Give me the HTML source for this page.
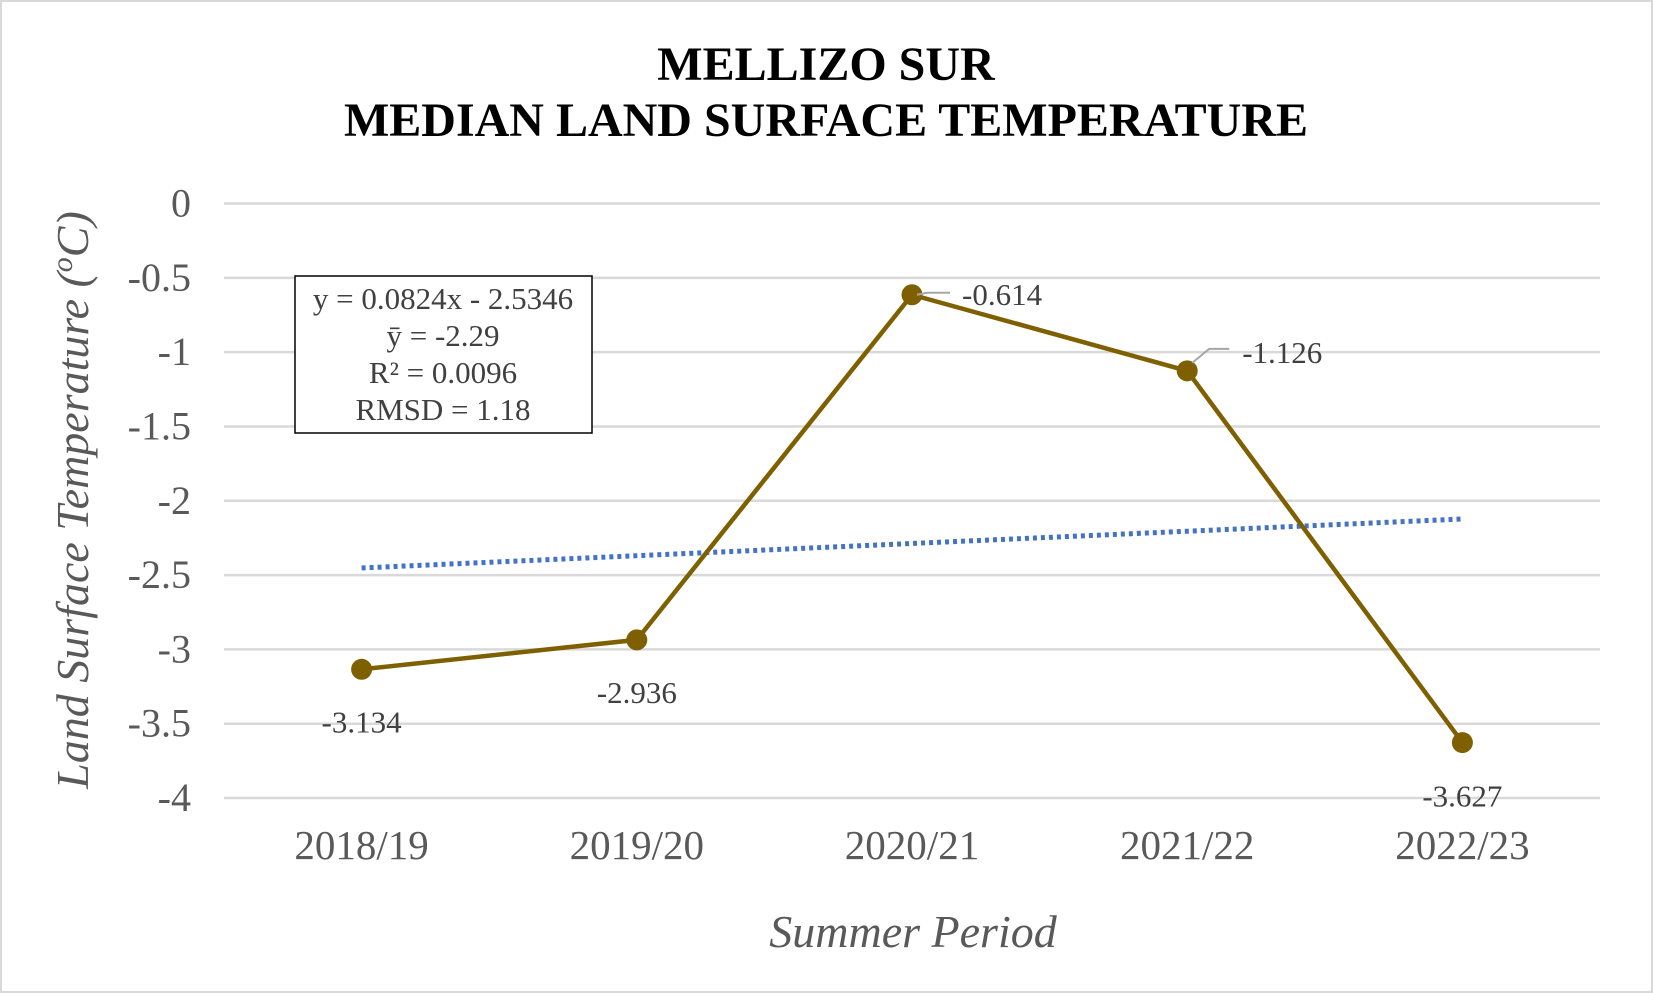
<!DOCTYPE html>
<html><head><meta charset="utf-8"><style>
body{margin:0;background:#fff}
svg{display:block;font-family:"Liberation Serif",serif}
</style></head><body>
<svg width="1653" height="993">
<rect x="1" y="1" width="1651" height="991" fill="#fff" stroke="#d9d9d9" stroke-width="2"/>
<text x="826" y="80" text-anchor="middle" font-size="48" font-weight="bold">MELLIZO SUR</text>
<text x="826" y="136" text-anchor="middle" font-size="48" font-weight="bold">MEDIAN LAND SURFACE TEMPERATURE</text>
<g id="grid"></g>
<g id="trend"></g>
<g id="series"></g>
<g id="labels"></g>
<text transform="translate(88,500) rotate(-90)" text-anchor="middle" font-size="46" font-style="italic" fill="#595959">Land Surface Temperature (<tspan baseline-shift="super" font-size="30">o</tspan>C)</text>
<text x="913" y="947" text-anchor="middle" font-size="46" font-style="italic" fill="#595959">Summer Period</text>
<g>
<rect x="295" y="276" width="297" height="157" fill="#fff" stroke="#000" stroke-width="1.5"/>
<g font-size="31" fill="#404040" text-anchor="middle">
<text x="443" y="309">y = 0.0824x - 2.5346</text>
<text x="443" y="346">ȳ = -2.29</text>
<text x="443" y="383">R² = 0.0096</text>
<text x="443" y="420">RMSD = 1.18</text>
</g></g>
</svg>
<script>
const categories=["2018/19","2019/20","2020/21","2021/22","2022/23"];
const values=[-3.134,-2.936,-0.614,-1.126,-3.627];
const valueLabels=["-3.134","-2.936","-0.614","-1.126","-3.627"];
const yTicks=[0,-0.5,-1,-1.5,-2,-2.5,-3,-3.5,-4];
const trendSlope=0.0824, trendIntercept=-2.5346;
const NS="http://www.w3.org/2000/svg";
const L=224,R=1600,T=203.5,B=798;
const xs=i=>L+(R-L)/categories.length*(i+0.5);
const ys=v=>T+(0-v)/4*(B-T);
function mk(tag,attrs,parent){const e=document.createElementNS(NS,tag);for(const k in attrs)e.setAttribute(k,attrs[k]);document.getElementById(parent).appendChild(e);return e;}
yTicks.forEach(v=>{
 const l=mk('line',{x1:L,x2:R,y1:ys(v),y2:ys(v),stroke:'#d9d9d9','stroke-width':2.5},'grid');
 
 
 const t=mk('text',{x:191,y:ys(v)+13,'text-anchor':'end','font-size':40,fill:'#595959'},'grid');
 t.textContent=String(v);
 
 
});
categories.forEach((c,i)=>{
 const t=mk('text',{x:xs(i),y:859,'text-anchor':'middle','font-size':41,fill:'#595959'},'grid');
 t.textContent=c;
 
 
});
const n=categories.length;
const tl=mk('line',{x1:xs(0),y1:ys(trendSlope*1+trendIntercept),x2:xs(n-1),y2:ys(trendSlope*n+trendIntercept),stroke:'#4472C4','stroke-width':5,'stroke-dasharray':'4 4'},'trend');


const pl=mk('polyline',{points:values.map((v,i)=>xs(i)+','+ys(v)).join(' '),fill:'none',stroke:'#7F6000','stroke-width':4.5},'series');


values.forEach((v,i)=>{
 const c=mk('circle',{cx:xs(i),cy:ys(v),r:10.5,fill:'#7F6000'},'series');
 
 
});
const off=[[0,0,63,'middle'],[0,0,63,'middle'],[1,50,10,'start'],[1,55,-8,'start'],[0,0,64,'middle']];
values.forEach((v,i)=>{
 const o=off[i];let x=xs(i)+o[1],y=ys(v)+o[2];
 if(o[0]){const lead=mk('polyline',{points:`${xs(i)+5},${ys(v)-(i==3?8:0)} ${xs(i)+(i==3?22:15)},${ys(v)-(i==3?22:2)} ${xs(i)+(i==3?42:38)},${ys(v)-(i==3?22:2)}`,fill:'none',stroke:'#a6a6a6','stroke-width':2},'labels');
  
  }
 const t=mk('text',{x:x,y:y,'text-anchor':o[3],'font-size':31,fill:'#404040'},'labels');
 t.textContent=valueLabels[i];
 
 
});
</script>
</body></html>
